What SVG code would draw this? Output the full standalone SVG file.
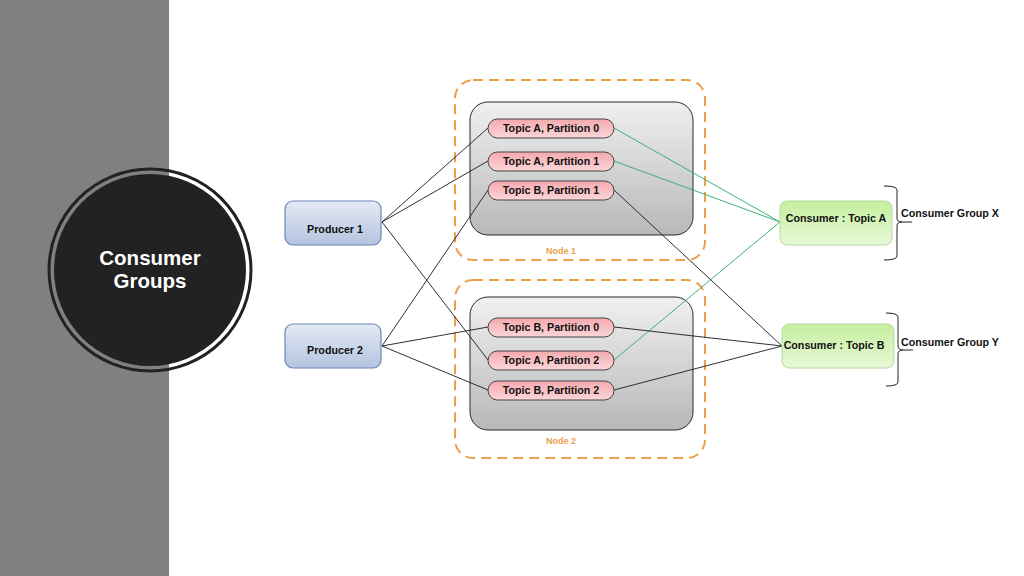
<svg xmlns="http://www.w3.org/2000/svg" width="1024" height="576" viewBox="0 0 1024 576">
<defs>
<linearGradient id="gGray" x1="0" y1="0" x2="0" y2="1"><stop offset="0" stop-color="#f0f0f0"/><stop offset="1" stop-color="#b8b8b8"/></linearGradient>
<linearGradient id="gPink" x1="0" y1="0" x2="0" y2="1"><stop offset="0" stop-color="#f4a9ae"/><stop offset="1" stop-color="#fbd6d8"/></linearGradient>
<linearGradient id="gBlue" x1="0" y1="0" x2="0" y2="1"><stop offset="0" stop-color="#e4eaf5"/><stop offset="1" stop-color="#b4c3df"/></linearGradient>
<linearGradient id="gGreen" x1="0" y1="0" x2="0" y2="1"><stop offset="0" stop-color="#c5ef9e"/><stop offset="1" stop-color="#e8f8d8"/></linearGradient>
<style>
text{font-family:"Liberation Sans",Arial,sans-serif;font-weight:bold;text-anchor:middle}
.dash{fill:none;stroke:#eba14a;stroke-width:2;stroke-dasharray:10,6}
.inner{fill:url(#gGray);stroke:#2a2a2a;stroke-width:1}
.pill{fill:url(#gPink);stroke:#444;stroke-width:1}
.pt{font-size:10.7px;fill:#111}
.prod{fill:url(#gBlue);stroke:#6d88b5;stroke-width:1.2}
.cons{fill:url(#gGreen);stroke:#b5d9a0;stroke-width:1}
.lbl{font-size:10.7px;fill:#111}
.nodel{font-size:9px;fill:#eba14a}
.blk{stroke:#1a1a1a;stroke-width:0.9;fill:none}
.grn{stroke:#2ea86a;stroke-width:0.9;fill:none}
.brace{stroke:#222;stroke-width:1;fill:none}
</style>
</defs>
<rect x="0" y="0" width="1024" height="576" fill="#ffffff"/>
<rect x="0" y="0" width="169" height="576" fill="#808080"/>
<g id="title">
<circle cx="150" cy="270" r="101" fill="none" stroke="#222" stroke-width="3"/>
<circle cx="150" cy="270" r="96" fill="#222222"/>
<text x="150" y="265" font-size="20.5" fill="#ffffff">Consumer</text>
<text x="150" y="288" font-size="20.5" fill="#ffffff">Groups</text>
</g>
<g id="node1">
<rect class="dash" x="455" y="80" width="250" height="180" rx="18"/>
<rect class="inner" x="470" y="102" width="223" height="133" rx="18"/>
<text class="nodel" x="561" y="254">Node 1</text>
</g>
<g id="node2">
<rect class="dash" x="455" y="280" width="250" height="178" rx="18"/>
<rect class="inner" x="470" y="297" width="223" height="133" rx="18"/>
<text class="nodel" x="561" y="444">Node 2</text>
</g>
<g id="connectors">
<line class="blk" x1="382" y1="222" x2="488" y2="128"/>
<line class="blk" x1="382" y1="222" x2="488" y2="161"/>
<line class="blk" x1="382" y1="222" x2="488" y2="360"/>
<line class="blk" x1="382" y1="346" x2="488" y2="190"/>
<line class="blk" x1="382" y1="346" x2="488" y2="327"/>
<line class="blk" x1="382" y1="346" x2="488" y2="390"/>
<line class="grn" x1="614" y1="128" x2="780" y2="222"/>
<line class="grn" x1="614" y1="161" x2="780" y2="222"/>
<line class="grn" x1="614" y1="360" x2="780" y2="222"/>
<line class="blk" x1="614" y1="190" x2="782" y2="346"/>
<line class="blk" x1="614" y1="327" x2="782" y2="346"/>
<line class="blk" x1="614" y1="390" x2="782" y2="346"/>
</g>
<g id="p-a0"><rect class="pill" x="488" y="119" width="126" height="19" rx="9.5"/><text class="pt" x="551" y="132">Topic A, Partition 0</text></g>
<g id="p-a1"><rect class="pill" x="488" y="152" width="126" height="19" rx="9.5"/><text class="pt" x="551" y="165">Topic A, Partition 1</text></g>
<g id="p-b1"><rect class="pill" x="488" y="181" width="126" height="19" rx="9.5"/><text class="pt" x="551" y="194">Topic B, Partition 1</text></g>
<g id="p-b0"><rect class="pill" x="488" y="318" width="126" height="19" rx="9.5"/><text class="pt" x="551" y="331">Topic B, Partition 0</text></g>
<g id="p-a2"><rect class="pill" x="488" y="351" width="126" height="19" rx="9.5"/><text class="pt" x="551" y="364">Topic A, Partition 2</text></g>
<g id="p-b2"><rect class="pill" x="488" y="381" width="126" height="19" rx="9.5"/><text class="pt" x="551" y="394">Topic B, Partition 2</text></g>
<g id="producer1"><rect class="prod" x="285" y="201" width="96" height="44" rx="8"/><text class="lbl" x="335" y="233">Producer 1</text></g>
<g id="producer2"><rect class="prod" x="285" y="324" width="96" height="44" rx="8"/><text class="lbl" x="335" y="354">Producer 2</text></g>
<g id="consumerA"><rect class="cons" x="780" y="201" width="112" height="44" rx="7"/><text class="lbl" x="836" y="222">Consumer : Topic A</text></g>
<g id="consumerB"><rect class="cons" x="782" y="324" width="112" height="44" rx="7"/><text class="lbl" x="834" y="349">Consumer : Topic B</text></g>
<g id="groupX">
<path class="brace" d="M884,186 Q897,186 897,190 L897,218 Q897,222 902,222 L912,222 M902,222 Q897,222 897,226 L897,256 Q897,260 884,260"/>
<text class="lbl" x="950" y="217">Consumer Group X</text>
</g>
<g id="groupY">
<path class="brace" d="M886,313 Q898,313 898,317 L898,346 Q898,350 903,350 L913,350 M903,350 Q898,350 898,354 L898,382 Q898,386 886,386"/>
<text class="lbl" x="950" y="346">Consumer Group Y</text>
</g>
</svg>
